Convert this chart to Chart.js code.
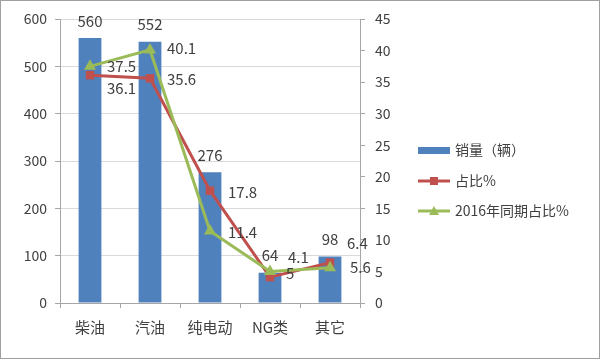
<!DOCTYPE html>
<html>
<head>
<meta charset="utf-8">
<script src="https://cdn.jsdelivr.net/npm/chart.js@4.4.0/dist/chart.umd.min.js"></script>
<style>
  html, body { margin: 0; padding: 0; background: #fff; }
  #wrap { width: 600px; height: 359px; }
</style>
</head>
<body>
<div id="wrap"><canvas id="chart" width="600" height="359"></canvas></div>
<script>
// chart data
const categories = ['柴油', '汽油', '纯电动', 'NG类', '其它'];
const sales = [560, 552, 276, 64, 98];
const share = [36.1, 35.6, 17.8, 4.1, 6.4];
const share2016 = [37.5, 40.1, 11.4, 5, 5.6];
const leftTicks = [0, 100, 200, 300, 400, 500, 600];
const rightTicks = [0, 5, 10, 15, 20, 25, 30, 35, 40, 45];

const COLORS = {
    bar: '#4F81BD',
    red: '#C0504D',
    green: '#9BBB59',
    text: '#404040',
    grid: '#D9D9D9',
    axis: '#A6A6A6',
    border: '#A0A0A0'
};
const FONT = "'Noto Sans CJK SC', 'Liberation Sans', sans-serif";

// label offsets relative to each point [dx, dy]
const shareLabelOffsets = [[17, 13], [17, 1], [18, 2], [18, -20], [17, -19]];
const share2016LabelOffsets = [[17, 0], [17, -2], [18, 1], [16, 2], [20, 0]];

const labelPlugin = {
    id: 'valueLabels',
    afterDatasetsDraw(chart) {
        const ctx = chart.ctx;
        ctx.save();
        ctx.font = '15px ' + FONT;
        ctx.fillStyle = COLORS.text;
        ctx.textBaseline = 'middle';
        chart.data.datasets.forEach((ds, di) => {
            const meta = chart.getDatasetMeta(di);
            meta.data.forEach((el, i) => {
                const txt = String(ds.data[i]);
                if (ds.type === 'bar') {
                    ctx.textAlign = 'center';
                    ctx.fillText(txt, el.x, el.y - 17);
                } else {
                    const off = ds.labelOffsets[i];
                    ctx.textAlign = 'left';
                    ctx.fillText(txt, el.x + off[0], el.y + off[1]);
                }
            });
        });
        ctx.restore();
    },
    afterDraw(chart) {
        const ctx = chart.ctx;
        ctx.save();
        // legend
        const lx = 418, lw = 32, tx = 455;
        const rows = [150, 181, 211];
        ctx.font = '14px ' + FONT;
        ctx.textBaseline = 'middle';
        ctx.textAlign = 'left';
        ctx.fillStyle = COLORS.bar;
        ctx.fillRect(lx, rows[0] - 3, lw, 7);
        ctx.lineWidth = 3;
        ctx.strokeStyle = COLORS.red;
        ctx.beginPath(); ctx.moveTo(lx, rows[1]); ctx.lineTo(lx + lw, rows[1]); ctx.stroke();
        ctx.fillStyle = COLORS.red;
        ctx.fillRect(lx + lw / 2 - 4, rows[1] - 4, 8, 8);
        ctx.strokeStyle = COLORS.green;
        ctx.beginPath(); ctx.moveTo(lx, rows[2]); ctx.lineTo(lx + lw, rows[2]); ctx.stroke();
        ctx.fillStyle = COLORS.green;
        ctx.beginPath();
        ctx.moveTo(lx + lw / 2, rows[2] - 5);
        ctx.lineTo(lx + lw / 2 + 5, rows[2] + 4);
        ctx.lineTo(lx + lw / 2 - 5, rows[2] + 4);
        ctx.closePath(); ctx.fill();
        ctx.fillStyle = COLORS.text;
        ctx.fillText('销量（辆）', tx, rows[0]);
        ctx.fillText('占比%', tx, rows[1]);
        ctx.fillText('2016年同期占比%', tx, rows[2]);
        // outer frame
        ctx.strokeStyle = COLORS.border;
        ctx.lineWidth = 1;
        ctx.strokeRect(0.5, 0.5, 599, 358);
        ctx.restore();
    }
};

const ctx = document.getElementById('chart').getContext('2d');
new Chart(ctx, {
    data: {
        labels: categories,
        datasets: [
            {
                type: 'line',
                label: '2016年同期占比%',
                data: share2016,
                yAxisID: 'y1',
                borderColor: COLORS.green,
                backgroundColor: COLORS.green,
                borderWidth: 3,
                pointStyle: 'triangle',
                pointRadius: 7,
                pointBorderWidth: 0,
                tension: 0,
                order: 0,
                labelOffsets: share2016LabelOffsets
            },
            {
                type: 'line',
                label: '占比%',
                data: share,
                yAxisID: 'y1',
                borderColor: COLORS.red,
                backgroundColor: COLORS.red,
                borderWidth: 3,
                pointStyle: 'rect',
                pointRadius: 6,
                pointBorderWidth: 0,
                tension: 0,
                order: 1,
                labelOffsets: shareLabelOffsets
            },
            {
                type: 'bar',
                label: '销量（辆）',
                data: sales,
                yAxisID: 'y',
                backgroundColor: COLORS.bar,
                categoryPercentage: 1,
                barPercentage: 0.38,
                order: 2
            }
        ]
    },
    options: {
        responsive: false,
        animation: false,
        events: [],
        layout: { padding: { top: 19, left: 0, right: 0, bottom: 0 } },
        plugins: { legend: { display: false }, tooltip: { enabled: false } },
        scales: {
            x: {
                afterFit(s) { s.height = 56; },
                grid: { offset: true, drawOnChartArea: false, tickLength: 5, color: COLORS.axis },
                border: { color: COLORS.axis },
                ticks: { color: COLORS.text, font: { family: FONT, size: 15 }, padding: 10 }
            },
            y: {
                position: 'left',
                min: 0,
                max: 600,
                afterFit(s) { s.width = 60; },
                afterBuildTicks(s) { s.ticks = leftTicks.map(v => ({ value: v })); },
                grid: { color: COLORS.grid, tickLength: 5, tickColor: COLORS.axis },
                border: { color: COLORS.axis },
                ticks: { color: COLORS.text, font: { family: FONT, size: 14 }, padding: 8 }
            },
            y1: {
                position: 'right',
                min: 0,
                max: 45,
                afterFit(s) { s.width = 240; },
                afterBuildTicks(s) { s.ticks = rightTicks.map(v => ({ value: v })); },
                grid: { drawOnChartArea: false, tickLength: 5, color: COLORS.axis },
                border: { color: COLORS.axis },
                ticks: { color: COLORS.text, font: { family: FONT, size: 14 }, padding: 10 }
            }
        }
    },
    plugins: [labelPlugin]
});
</script>
</body>
</html>
